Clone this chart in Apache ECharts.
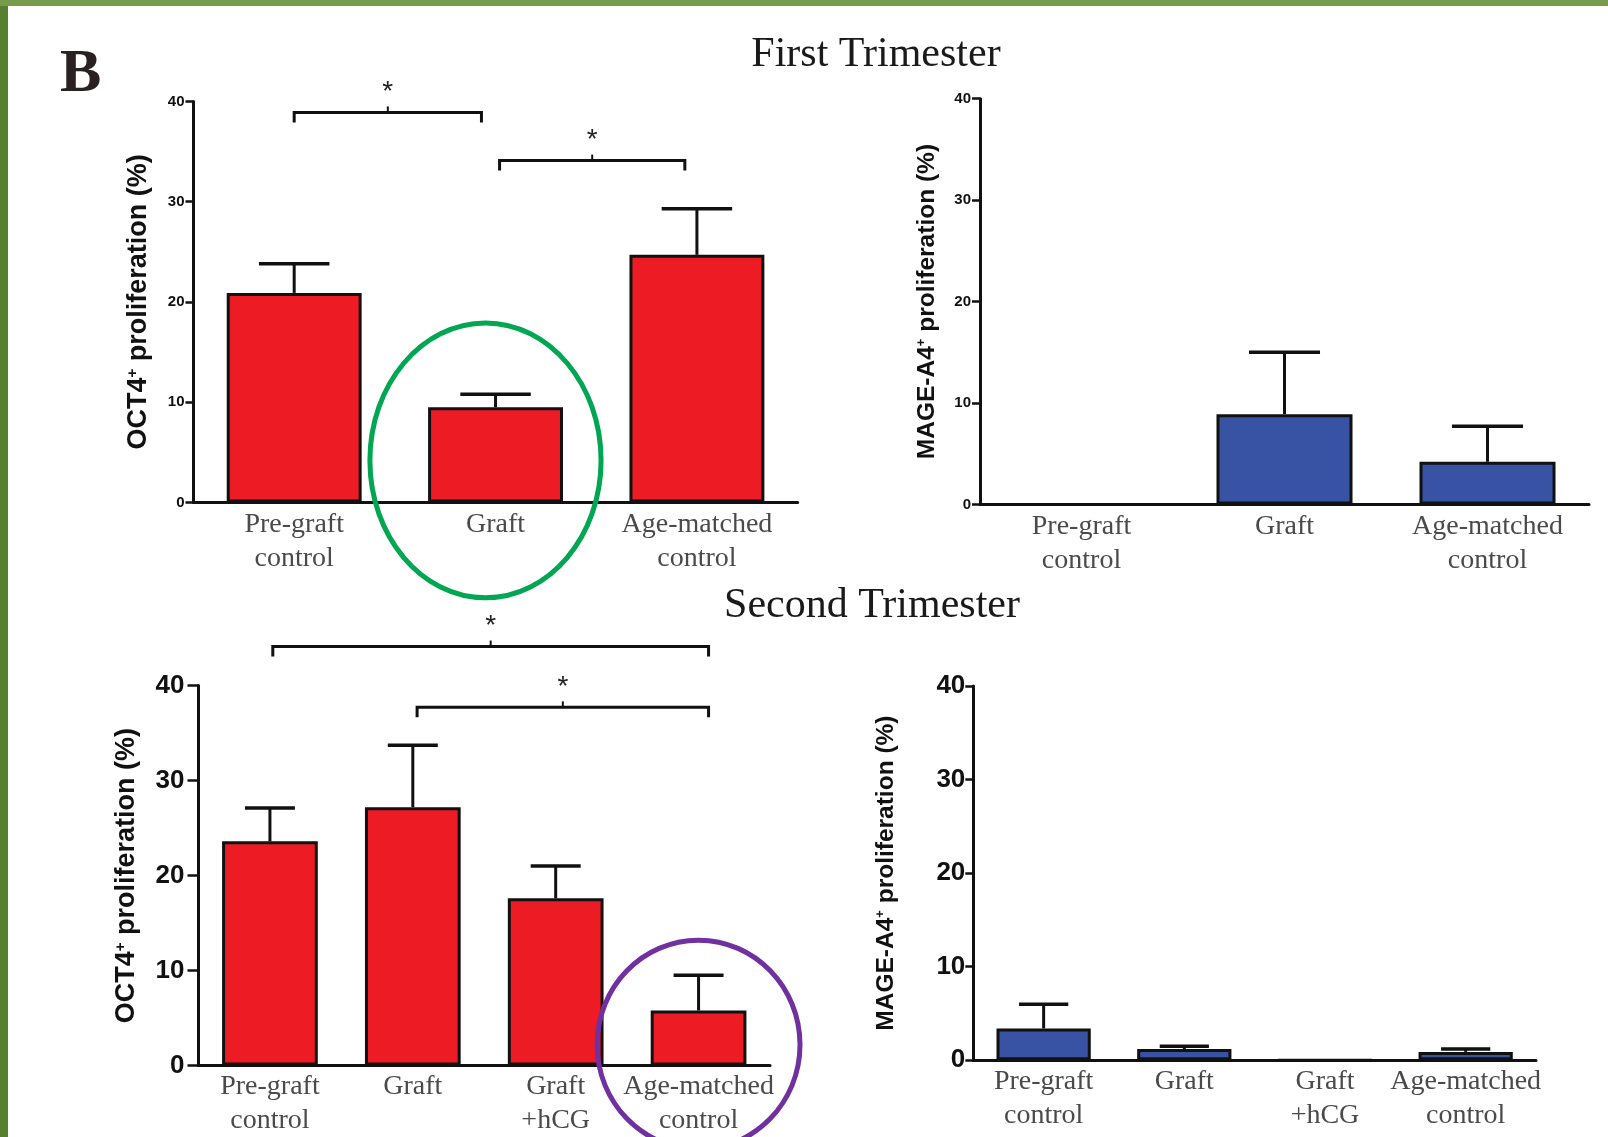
<!DOCTYPE html>
<html>
<head>
<meta charset="utf-8">
<script src="https://cdn.jsdelivr.net/npm/echarts@6/dist/echarts.min.js"></script>
<style>
html,body{margin:0;padding:0;background:#fff;}
#chart{width:1608px;height:1137px;}
</style>
</head>
<body>
<div id="chart"></div>
<script>
// ---------- data ----------
const topCategories = ['Pre-graft\ncontrol', 'Graft', 'Age-matched\ncontrol'];
const bottomCategories = ['Pre-graft\ncontrol', 'Graft', 'Graft\n+hCG', 'Age-matched\ncontrol'];
const yTickValues = [0, 10, 20, 30, 40];

const oct4FirstMean = [20.9, 9.5, 24.7];
const oct4FirstSem  = [2.9, 1.3, 4.6];
const mageFirstMean = [0, 8.9, 4.2];
const mageFirstSem  = [0, 6.1, 3.5];
const oct4SecondMean = [23.6, 27.2, 17.6, 5.8];
const oct4SecondSem  = [3.5, 6.5, 3.4, 3.7];
const mageSecondMean = [3.4, 1.2, 0, 0.9];
const mageSecondSem  = [2.6, 0.3, 0, 0.3];

// significance brackets: [from category, to category, height (%)]
const oct4FirstBrackets  = [[0, 0.93, 38.9], [1.02, 1.94, 34.1]];
const oct4SecondBrackets = [[0.02, 3.07, 44.1], [1.03, 3.07, 37.7]];

// highlight rings: [category, centre (%), half-width (categories), half-height (%)]
const oct4FirstRing  = [[0.95, 4.2, 0.574, 13.7]];
const oct4SecondRing = [[3.0, 2.2, 0.71, 11.0]];

// ---------- styling ----------
const RED = '#ED1C24', BLUE = '#3953A4', INK = '#111111';

const panels = [
  { grid: {left: 193.5, top: 101.4, width: 604.1, height: 401.1},
    cats: topCategories, mean: oct4FirstMean, sem: oct4FirstSem, fill: RED,
    marker: 'OCT4', nameSize: 27, nameGap: 41, tickFont: 15, tickLen: 8, labelMargin: 9, catMargin: 5,
    brackets: oct4FirstBrackets, ring: oct4FirstRing, ringColor: '#00A651' },
  { grid: {left: 980, top: 98.7, width: 609, height: 405.7},
    cats: topCategories, mean: mageFirstMean, sem: mageFirstSem, fill: BLUE,
    marker: 'MAGE-A4', nameSize: 24.5, nameGap: 40.5, tickFont: 15, tickLen: 8, labelMargin: 9, catMargin: 5,
    brackets: [], ring: [], ringColor: '#000' },
  { grid: {left: 198.5, top: 685.5, width: 571.5, height: 380.1},
    cats: bottomCategories, mean: oct4SecondMean, sem: oct4SecondSem, fill: RED,
    marker: 'OCT4', nameSize: 27, nameGap: 58, tickFont: 26, tickLen: 11, labelMargin: 14, catMargin: 4,
    brackets: oct4SecondBrackets, ring: oct4SecondRing, ringColor: '#7030A0' },
  { grid: {left: 973.3, top: 685.9, width: 562.7, height: 374.4},
    cats: bottomCategories, mean: mageSecondMean, sem: mageSecondSem, fill: BLUE,
    marker: 'MAGE-A4', nameSize: 24.5, nameGap: 74.5, tickFont: 26, tickLen: 8, labelMargin: 8, catMargin: 4,
    brackets: [], ring: [], ringColor: '#000' }
];

function errorBarItem(params, api) {
  const x = api.value(0), m = api.value(1), s = api.value(2);
  if (!(s > 0)) return null;
  const p0 = api.coord([x, m]);
  const p1 = api.coord([x, m + s]);
  const half = api.size([1, 0])[0] * 0.35 / 2;
  return { type: 'group', children: [
    { type: 'line', shape: {x1: p0[0], y1: p0[1], x2: p1[0], y2: p1[1]}, style: {stroke: INK, lineWidth: 3} },
    { type: 'line', shape: {x1: p1[0] - half, y1: p1[1], x2: p1[0] + half, y2: p1[1]}, style: {stroke: INK, lineWidth: 3.5} }
  ]};
}

function bracketItem(params, api) {
  const a = api.coord([api.value(0), api.value(2)]);
  const b = api.coord([api.value(1), api.value(2)]);
  const drop = 10, mid = (a[0] + b[0]) / 2;
  return { type: 'group', children: [
    { type: 'polyline', shape: {points: [[a[0], a[1] + drop], [a[0], a[1]], [b[0], b[1]], [b[0], b[1] + drop]]},
      style: {stroke: INK, lineWidth: 3, fill: null} },
    { type: 'line', shape: {x1: mid, y1: a[1], x2: mid, y2: a[1] - 6}, style: {stroke: INK, lineWidth: 2} },
    { type: 'text', style: {text: '*', x: mid, y: a[1] - 20, align: 'center', verticalAlign: 'middle',
      font: '28px "Liberation Sans"', fill: '#222'} }
  ]};
}

function ringItem(color) {
  return function (params, api) {
    const c = api.coord([api.value(0), api.value(1)]);
    const rx = api.size([api.value(2), 0])[0];
    const ry = api.size([0, api.value(3)])[1];
    return { type: 'ellipse', shape: {cx: c[0], cy: c[1], rx: rx, ry: ry},
      style: {stroke: color, lineWidth: 5, fill: null} };
  };
}

const grids = [], xAxes = [], yAxes = [], series = [];
const n = panels.length;
panels.forEach((p, k) => {
  grids.push(Object.assign({outerBoundsMode: 'none', containLabel: false}, p.grid));
  xAxes[k] = {
    type: 'category', gridIndex: k, data: p.cats,
    axisLine: {show: true, onZero: false, lineStyle: {color: INK, width: 3}},
    axisTick: {show: false},
    axisLabel: {interval: 0, margin: p.catMargin, fontFamily: 'Liberation Serif', fontSize: 28, lineHeight: 34, color: '#4a4a4a'},
    splitLine: {show: false}
  };
  xAxes[n + k] = {
    type: 'value', gridIndex: k, min: -0.5, max: p.cats.length - 0.5, show: false,
    axisLine: {onZero: false}
  };
  yAxes.push({
    type: 'value', gridIndex: k,
    min: yTickValues[0], max: yTickValues[yTickValues.length - 1], interval: yTickValues[1] - yTickValues[0],
    name: '{m|' + p.marker + '}{s|+}{m| proliferation (%)}',
    nameLocation: 'middle', nameGap: p.nameGap,
    nameTextStyle: {
      fontFamily: 'Liberation Sans', fontWeight: 'bold', fontSize: p.nameSize, color: INK,
      rich: {
        m: {fontFamily: 'Liberation Sans', fontWeight: 'bold', fontSize: p.nameSize, color: INK},
        s: {fontFamily: 'Liberation Sans', fontWeight: 'bold', fontSize: Math.round(p.nameSize * 0.55), color: INK, verticalAlign: 'top'}
      }
    },
    axisLine: {show: true, onZero: false, lineStyle: {color: INK, width: 3}},
    axisTick: {show: true, length: p.tickLen, lineStyle: {color: INK, width: 2.5}},
    axisLabel: {margin: p.labelMargin, fontFamily: 'Liberation Sans', fontWeight: 'bold', fontSize: p.tickFont, color: INK},
    splitLine: {show: false}
  });
  series.push({
    type: 'bar', xAxisIndex: k, yAxisIndex: k, data: p.mean, barWidth: '67%',
    itemStyle: {color: p.fill, borderColor: INK, borderWidth: 3}, z: 2, silent: true
  });
  series.push({
    type: 'custom', xAxisIndex: k, yAxisIndex: k, renderItem: errorBarItem,
    data: p.mean.map((m, i) => [i, m, p.sem[i]]), encode: {x: 0, y: 1}, z: 3, silent: true
  });
  if (p.brackets.length) {
    series.push({
      type: 'custom', xAxisIndex: n + k, yAxisIndex: k, renderItem: bracketItem, clip: false,
      data: p.brackets, encode: {x: [0, 1], y: 2}, z: 4, silent: true
    });
  }
  if (p.ring.length) {
    series.push({
      type: 'custom', xAxisIndex: n + k, yAxisIndex: k, renderItem: ringItem(p.ringColor), clip: false,
      data: p.ring, encode: {x: 0, y: 1}, z: 5, silent: true
    });
  }
});

const option = {
  animation: false,
  backgroundColor: '#ffffff',
  graphic: [
    {type: 'rect', left: 0, top: 0, shape: {width: 8, height: 1137}, style: {fill: '#56802f'}, z: -10, silent: true},
    {type: 'rect', left: 0, top: 0, shape: {width: 1608, height: 6}, style: {fill: '#789a4c'}, z: -10, silent: true}
  ],
  title: [
    {text: 'B', left: 60, top: 44, padding: 0,
      textStyle: {fontFamily: 'Liberation Serif', fontWeight: 'bold', fontSize: 62, color: '#2a2222'}},
    {text: 'First Trimester', left: 876, top: 34, padding: 0, textAlign: 'center',
      textStyle: {fontFamily: 'Liberation Serif', fontWeight: 'normal', fontSize: 42, color: '#1a1a1a'}},
    {text: 'Second Trimester', left: 872, top: 585, padding: 0, textAlign: 'center',
      textStyle: {fontFamily: 'Liberation Serif', fontWeight: 'normal', fontSize: 42, color: '#1a1a1a'}}
  ],
  grid: grids,
  xAxis: xAxes,
  yAxis: yAxes,
  series: series
};

const chart = echarts.init(document.getElementById('chart'), null, {renderer: 'canvas'});
chart.setOption(option);
</script>
</body>
</html>
